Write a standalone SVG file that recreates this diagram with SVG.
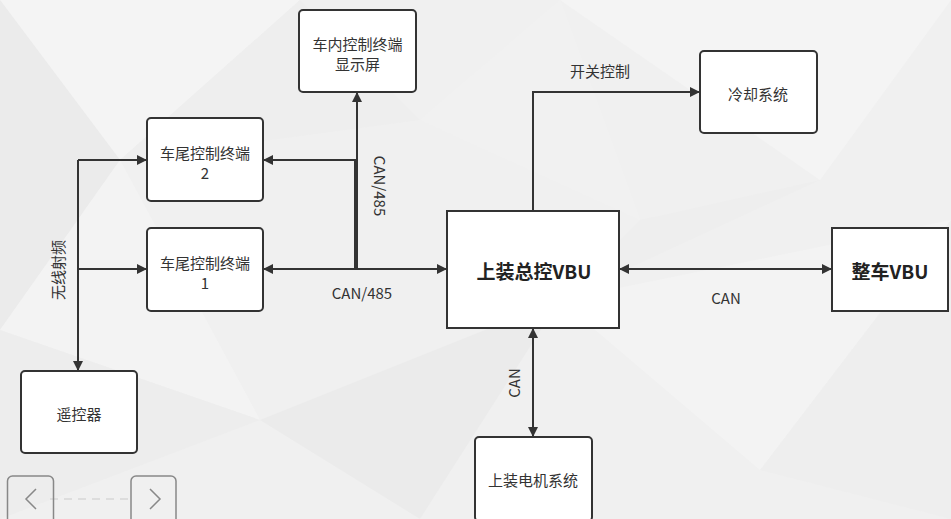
<svg xmlns="http://www.w3.org/2000/svg" width="951" height="519" viewBox="0 0 951 519">
<defs>
<style>
.bg{fill:#f0f0f0}
.poly{stroke:none}
.node rect{fill:#ffffff;stroke:#333333;stroke-width:2}
.lbl{font-family:"Noto Sans CJK SC","Noto Sans",sans-serif;font-size:15px;fill:#333333;text-anchor:middle;dominant-baseline:central}
.big{font-family:"Noto Sans CJK SC","Noto Sans",sans-serif;font-size:19px;font-weight:bold;fill:#222222;text-anchor:middle;dominant-baseline:central}
.edge{fill:none;stroke:#333333;stroke-width:2}
.nav{fill:none;stroke:#888888;stroke-width:1.5}
</style>
<marker id="ah" viewBox="0 0 10 10" refX="10" refY="5" markerWidth="11" markerHeight="10" markerUnits="userSpaceOnUse" orient="auto-start-reverse">
<path d="M0,0 L10,5 L0,10 Z" fill="#333333"/>
</marker>
</defs>
<rect class="bg" x="0" y="0" width="951" height="519"/>
<g id="background">
<polygon class="poly" points="0,0 300,0 120,160" fill="#f4f4f4"/>
<polygon class="poly" points="0,0 120,160 0,330" fill="#ebebeb"/>
<polygon class="poly" points="120,160 300,0 420,120" fill="#eeeeee"/>
<polygon class="poly" points="0,330 120,160 260,420" fill="#f3f3f3"/>
<polygon class="poly" points="0,330 260,420 0,519" fill="#ededed"/>
<polygon class="poly" points="260,420 560,300 420,519" fill="#ebebeb"/>
<polygon class="poly" points="560,300 951,220 760,470" fill="#f3f3f3"/>
<polygon class="poly" points="760,470 951,220 951,519" fill="#eeeeee"/>
<polygon class="poly" points="560,0 951,0 820,180" fill="#f4f4f4"/>
<polygon class="poly" points="420,120 560,0 640,220" fill="#f1f1f1"/>
<polygon class="poly" points="640,220 820,180 560,300" fill="#eeeeee"/>
</g>
<g id="connectors">
<path class="edge" d="M357,269 V92" marker-end="url(#ah)"/>
<path class="edge" d="M355,270 V160 H263" stroke-width="2.5" marker-end="url(#ah)"/>
<path class="edge" d="M263,269 H447" marker-start="url(#ah)" marker-end="url(#ah)"/>
<path class="edge" d="M78,160 H147" marker-end="url(#ah)"/>
<path class="edge" d="M78,269 H147" marker-end="url(#ah)"/>
<path class="edge" d="M78,160 V371" marker-end="url(#ah)"/>
<path class="edge" d="M533,211 V92 H700" marker-end="url(#ah)"/>
<path class="edge" d="M619,269 H832" marker-start="url(#ah)" marker-end="url(#ah)"/>
<path class="edge" d="M533,328 V437" marker-start="url(#ah)" marker-end="url(#ah)"/>
<text class="lbl" x="362" y="292">CAN/485</text>
<text class="lbl" transform="translate(380,186) rotate(90)">CAN/485</text>
<text class="lbl" x="600" y="70">开关控制</text>
<text class="lbl" x="726" y="297">CAN</text>
<text class="lbl" transform="translate(513,383) rotate(-90)">CAN</text>
<text class="lbl" transform="translate(57,270) rotate(-90)">无线射频</text>
</g>
<g id="n-display" class="node">
<rect x="299" y="10" width="117" height="82" rx="4"/>
<text class="lbl" x="357.5" y="43">车内控制终端</text>
<text class="lbl" x="357.5" y="63">显示屏</text>
</g>
<g id="n-tail2" class="node">
<rect x="147" y="118" width="116" height="83" rx="4"/>
<text class="lbl" x="205" y="152">车尾控制终端</text>
<text class="lbl" x="205" y="172">2</text>
</g>
<g id="n-tail1" class="node">
<rect x="147" y="228" width="116" height="83" rx="4"/>
<text class="lbl" x="205" y="262">车尾控制终端</text>
<text class="lbl" x="205" y="282">1</text>
</g>
<g id="n-remote" class="node">
<rect x="21" y="371" width="116" height="82" rx="4"/>
<text class="lbl" x="79" y="413">遥控器</text>
</g>
<g id="n-vbu" class="node">
<rect x="447" y="211" width="172" height="117"/>
<text class="big" x="534" y="270">上装总控VBU</text>
</g>
<g id="n-cooling" class="node">
<rect x="700" y="51" width="117" height="82" rx="4"/>
<text class="lbl" x="758" y="93">冷却系统</text>
</g>
<g id="n-vehicle" class="node">
<rect x="832" y="228" width="116" height="83"/>
<text class="big" x="890" y="270">整车VBU</text>
</g>
<g id="n-motor" class="node">
<rect x="475" y="437" width="117" height="84" rx="4"/>
<text class="lbl" x="533" y="479">上装电机系统</text>
</g>
<g id="nav">
<line x1="50" y1="499" x2="131" y2="499" stroke="#dddddd" stroke-width="2" stroke-dasharray="8,6"/>
<rect class="nav" x="7.5" y="476" width="46" height="50" rx="5"/>
<rect class="nav" x="131" y="476" width="45" height="50" rx="5"/>
<path class="nav" d="M36,489 L26,499 L36,509" stroke="#777777"/>
<path class="nav" d="M150,489 L160,499 L150,509" stroke="#777777"/>
</g>
</svg>
